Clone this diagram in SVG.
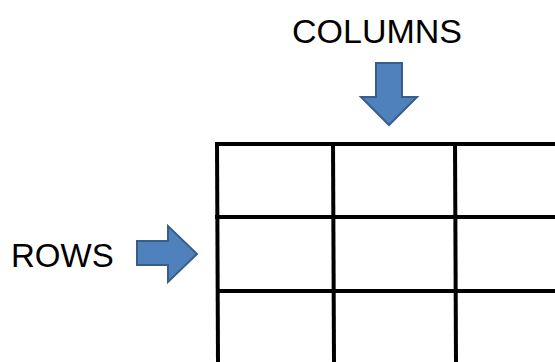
<svg xmlns="http://www.w3.org/2000/svg" width="555" height="362" viewBox="0 0 555 362">
<style>
.lbl{font-family:"Liberation Sans",Arial,sans-serif;font-size:34.5px;fill:#000}
.arrow{fill:#4F81BD;stroke:#385D8A;stroke-width:2;stroke-linejoin:miter}
.grid line{stroke:#000;stroke-width:4}
</style>
<rect width="555" height="362" fill="#fff"/>
<g id="grid" class="grid">
<line x1="215" y1="144" x2="555" y2="144"/>
<line x1="215" y1="217" x2="555" y2="217"/>
<line x1="217" y1="291" x2="555" y2="291"/>
<line x1="217" y1="142" x2="218" y2="362"/>
<line x1="333" y1="142" x2="334" y2="362"/>
<line x1="455" y1="142" x2="456" y2="362"/>
</g>
<g id="columns">
<text class="lbl" x="292" y="43" style="font-size:34px">COLUMNS</text>
<polygon class="arrow" points="376,63 402,63 402,97 417,97 389,125 361,97 376,97"/>
</g>
<g id="rows">
<text class="lbl" x="11" y="267" style="font-size:33px">ROWS</text>
<polygon class="arrow" points="137,241 168,241 168,226 197,254 168,282 168,265 137,265"/>
</g>
</svg>
